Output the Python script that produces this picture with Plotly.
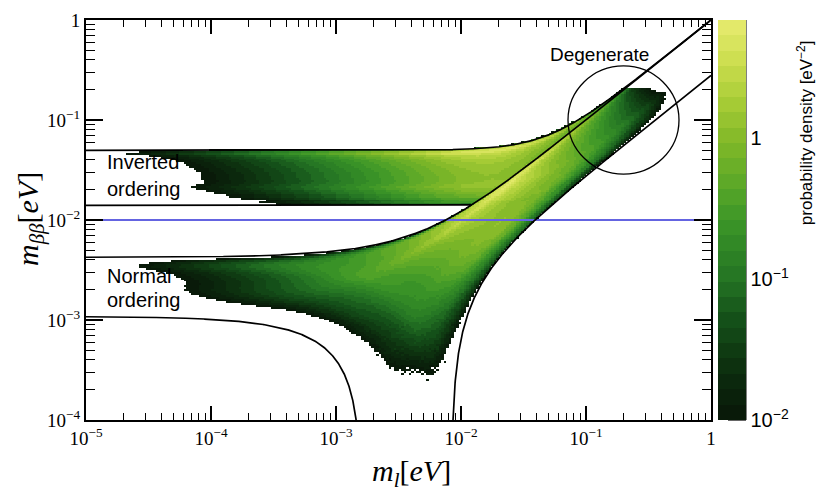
import itertools
import numpy as np
import plotly.graph_objects as go

# ---------------- chart data / parameters ----------------
X_TICK_VALS = [1e-5, 1e-4, 1e-3, 1e-2, 1e-1, 1]
X_TICK_TEXT = ["10<sup>−5</sup>", "10<sup>−4</sup>", "10<sup>−3</sup>",
               "10<sup>−2</sup>", "10<sup>−1</sup>", "1"]
Y_TICK_VALS = [1e-4, 1e-3, 1e-2, 1e-1, 1]
Y_TICK_TEXT = ["10<sup>−4</sup>", "10<sup>−3</sup>", "10<sup>−2</sup>",
               "10<sup>−1</sup>", "1"]
CB_TICK_VALS = [0.01, 0.1, 1]
CB_TICK_TEXT = ["10<sup>−2</sup>", "10<sup>−1</sup>", "1"]

# oscillation parameters (allowed ranges)
SIN2_THETA12 = [0.28, 0.345]
SIN2_THETA13 = [0.0185, 0.0235]
DM2_21 = [7.0e-5, 8.1e-5]
DM2_3L = [2.30e-3, 2.62e-3]

# sampling limits / weights of the density map
ML_MAX = 0.47
MBB_MAX = 0.21
MBB_SIGMA = 0.10
PRIOR_SCALE = 0.02
PRIOR_POWER = 2.5
DENSITY_NORM = 90.0
Z_RANGE = [0.01, 6.9]
SENSITIVITY = 0.01

COLOR_ANCHORS = [
    (0.00, (8, 22, 8)),
    (0.12, (12, 45, 14)),
    (0.25, (20, 80, 25)),
    (0.35, (35, 115, 35)),
    (0.50, (60, 150, 40)),
    (0.60, (95, 170, 40)),
    (0.70, (130, 185, 40)),
    (0.80, (170, 205, 55)),
    (0.90, (205, 222, 80)),
    (1.00, (232, 236, 112)),
]
N_LEVELS = 26


# ---------------- physics helpers ----------------
def terms(ml, s12, s13, d21, d3l, ordering):
    if ordering == "NO":
        m1 = ml
        m2 = np.sqrt(ml ** 2 + d21)
        m3 = np.sqrt(ml ** 2 + d3l)
    else:
        m3 = ml
        m2 = np.sqrt(ml ** 2 + d3l)
        m1 = np.sqrt(ml ** 2 + d3l - d21)
    c13 = 1.0 - s13
    return m1 * (1 - s12) * c13, m2 * s12 * c13, m3 * s13


corners = list(itertools.product(SIN2_THETA12, SIN2_THETA13, DM2_21, DM2_3L))
ml_line = np.logspace(-5, 0, 3000)


def envelope(ordering):
    ups, lows = [], []
    for s12, s13, d21, d3l in corners:
        a1, a2, a3 = terms(ml_line, s12, s13, d21, d3l, ordering)
        tot = a1 + a2 + a3
        ups.append(tot)
        lows.append(np.maximum(0.0, 2 * np.maximum(np.maximum(a1, a2), a3) - tot))
    return np.max(ups, axis=0), np.min(lows, axis=0)


no_up, no_low = envelope("NO")
io_up, io_low = envelope("IO")

# ---------------- density map ----------------
NX, NY = 250, 205
lx_edges = np.linspace(-5, 0, NX + 1)
ly_edges = np.linspace(-4, 0, NY + 1)
dx = lx_edges[1] - lx_edges[0]
dy = ly_edges[1] - ly_edges[0]
NA, NB = 64, 32
grid = list(itertools.product(np.linspace(*SIN2_THETA12, 4),
                              np.linspace(*SIN2_THETA13, 3),
                              np.linspace(*DM2_21, 2),
                              np.linspace(*DM2_3L, 3)))
ncomb = len(grid)
counts = np.zeros(NX * NY)
row = np.arange(NX)[:, None] * NY
for ordering in ("NO", "IO"):
    for c, (s12, s13, d21, d3l) in enumerate(grid):
        fx = (c * 0.6180339887 + 0.5) % 1.0
        ml = 10 ** (lx_edges[:-1] + dx * fx)
        a1, a2, a3 = terms(ml, s12, s13, d21, d3l, ordering)
        oa = (c * 0.7548776662) % 1.0
        ob = (c * 0.5698402910) % 1.0
        alpha = 2 * np.pi * (np.arange(NA) + oa) / NA
        beta = 2 * np.pi * (np.arange(NB) + ob) / NB
        e2 = np.repeat(np.exp(1j * alpha), NB)
        e3 = np.tile(np.exp(1j * beta), NA)
        mbb = np.abs(a1[:, None] + a2[:, None] * e2[None, :] + a3[:, None] * e3[None, :])
        iy = np.floor((np.log10(np.maximum(mbb, 1e-12)) + 4) / dy).astype(int)
        ok = (iy >= 0) & (iy < NY)
        counts += np.bincount((row + iy)[ok], minlength=NX * NY)

q = counts.reshape(NX, NY) / (ncomb * NA * NB) / dy
ml_c = 10 ** ((lx_edges[:-1] + lx_edges[1:]) / 2)
mbb_c = 10 ** ((ly_edges[:-1] + ly_edges[1:]) / 2)
prior = 1.0 / (1.0 + (ml_c / PRIOR_SCALE) ** PRIOR_POWER) * (ml_c <= ML_MAX)
like = np.exp(-0.5 * (mbb_c / MBB_SIGMA) ** 2) * (mbb_c <= MBB_MAX)
dens = DENSITY_NORM * ml_c[:, None] * q * prior[:, None] * like[None, :]
zmin, zmax = np.log10(Z_RANGE[0]), np.log10(Z_RANGE[1])
with np.errstate(divide="ignore"):
    z = np.log10(dens)
z = np.where(dens >= Z_RANGE[0], np.minimum(z, zmax - 1e-6), np.nan)


# ---------------- colour scale ----------------
def interp_color(f):
    for (f0, c0), (f1, c1) in zip(COLOR_ANCHORS[:-1], COLOR_ANCHORS[1:]):
        if f0 <= f <= f1:
            t = (f - f0) / (f1 - f0)
            return "rgb(%d,%d,%d)" % tuple(round(a + (b - a) * t) for a, b in zip(c0, c1))
    return "rgb(%d,%d,%d)" % COLOR_ANCHORS[-1][1]


colorscale = []
for k in range(N_LEVELS):
    col = interp_color((k + 0.5) / N_LEVELS)
    colorscale.append([k / N_LEVELS, col])
    colorscale.append([(k + 1) / N_LEVELS, col])

# ---------------- figure ----------------
L, R, T, B = 86, 107, 10, 76
W, H = 818, 496
PW, PH = W - L - R, H - T - B


def px(x):
    return (x - L) / PW


def py(y):
    return (H - B - y) / PH


fig = go.Figure()
cb_left = px(718)
cb_thick = 28
fig.add_trace(go.Heatmap(
    x=10 ** lx_edges, y=10 ** ly_edges, z=z.T,
    zmin=zmin, zmax=zmax, colorscale=colorscale, zsmooth=False,
    hoverinfo="skip",
    colorbar=dict(x=cb_left, xanchor="left", xpad=0, ypad=0, y=0.5, yanchor="middle",
                  len=1, lenmode="fraction", thickness=cb_thick, thicknessmode="pixels",
                  outlinewidth=0, ticks="",
                  tickvals=[np.log10(v) for v in CB_TICK_VALS], ticktext=CB_TICK_TEXT,
                  tickfont=dict(family="Liberation Sans", size=20, color="black")),
))

# sensitivity line
fig.add_trace(go.Scatter(x=[X_TICK_VALS[0], X_TICK_VALS[-1]], y=[SENSITIVITY, SENSITIVITY],
                         mode="lines", line=dict(color="rgb(100,100,225)", width=2.2),
                         hoverinfo="skip", showlegend=False))


def nz(a):
    return np.where(a > 0, a, np.nan)


# IO lower only until it meets the normal-ordering band
io_mask = io_low > no_up
cut = np.argmin(io_mask) if not io_mask.all() else len(io_mask)
line_style = dict(color="black", width=1.7)
for xs, ys in [(ml_line, io_up), (ml_line[:cut + 1], io_low[:cut + 1]),
               (ml_line, no_up), (ml_line, nz(no_low))]:
    fig.add_trace(go.Scatter(x=xs, y=ys, mode="lines", line=line_style,
                             hoverinfo="skip", showlegend=False, connectgaps=False))

# colour-bar tick marks and edge
shapes = []
cb_right = cb_left + cb_thick / PW
shapes.append(dict(type="line", xref="paper", yref="paper", x0=cb_right, x1=cb_right,
                   y0=0, y1=1, line=dict(color="black", width=1)))
for e in (-2, -1, 0):
    for k in range(1, 10):
        v = k * 10.0 ** e
        if v > Z_RANGE[1]:
            continue
        yy = (np.log10(v) - zmin) / (zmax - zmin)
        ln = 18 if k == 1 else 9
        shapes.append(dict(type="line", xref="paper", yref="paper",
                           x0=cb_right - ln / PW, x1=cb_right, y0=yy, y1=yy,
                           line=dict(color="black", width=1.2)))

# degenerate circle
cx, cy, rad = 623.5, 112.5, 55.5
shapes.append(dict(type="circle", xref="paper", yref="paper",
                   x0=px(cx - rad), x1=px(cx + rad), y0=py(cy + rad), y1=py(cy - rad),
                   line=dict(color="black", width=1.3)))

minor_vals_x = [k * 10.0 ** e for e in range(-5, 0) for k in range(2, 10)]
minor_vals_y = [k * 10.0 ** e for e in range(-4, 0) for k in range(2, 10)]
axis_common = dict(type="log", showline=True, linewidth=2, linecolor="black",
                   mirror="allticks", ticks="inside", tickwidth=1.5, tickcolor="black",
                   showgrid=False, zeroline=False,
                   tickfont=dict(family="Liberation Serif", size=19, color="black"))
fig.update_xaxes(range=[-5, 0], tickmode="array", tickvals=X_TICK_VALS, ticktext=X_TICK_TEXT,
                 ticklen=14,
                 minor=dict(tickmode="array", tickvals=minor_vals_x, ticks="inside",
                            ticklen=7, tickwidth=1.2, tickcolor="black", showgrid=False),
                 **axis_common)
fig.update_yaxes(range=[-4, 0], tickmode="array", tickvals=Y_TICK_VALS, ticktext=Y_TICK_TEXT,
                 ticklen=17,
                 minor=dict(tickmode="array", tickvals=minor_vals_y, ticks="inside",
                            ticklen=9, tickwidth=1.2, tickcolor="black", showgrid=False),
                 **axis_common)

sans = dict(family="Liberation Sans", size=20, color="black")
serif_t = dict(family="Liberation Serif", size=30, color="black")
annotations = [
    dict(text="Inverted", x=px(105), y=py(156), xanchor="left", yanchor="middle", font=sans),
    dict(text="ordering", x=px(105), y=py(183), xanchor="left", yanchor="middle", font=sans),
    dict(text="Normal", x=px(105), y=py(272), xanchor="left", yanchor="middle", font=sans),
    dict(text="ordering", x=px(105), y=py(297), xanchor="left", yanchor="middle", font=sans),
    dict(text="Degenerate", x=px(599), y=py(45), xanchor="center", yanchor="middle",
         font=dict(family="Liberation Sans", size=19, color="black")),
    dict(text="<i>m</i><sub><i>ββ</i></sub>[<i>eV</i>]", x=px(30), y=py(214),
         textangle=-90, xanchor="center", yanchor="middle", font=serif_t),
    dict(text="<i>m</i><sub><i>l</i></sub>[<i>eV</i>]", x=px(412), y=py(474),
         xanchor="center", yanchor="middle", font=serif_t),
    dict(text="probability density [eV<sup>−2</sup>]", x=px(805), y=py(126),
         textangle=-90, xanchor="center", yanchor="middle",
         font=dict(family="Liberation Sans", size=17, color="black")),
]
for a in annotations:
    a.update(xref="paper", yref="paper", showarrow=False)

fig.update_layout(width=W, height=H, margin=dict(l=L, r=R, t=T, b=B),
                  paper_bgcolor="white", plot_bgcolor="white",
                  shapes=shapes, annotations=annotations, showlegend=False)

fig.write_html("out.html")
